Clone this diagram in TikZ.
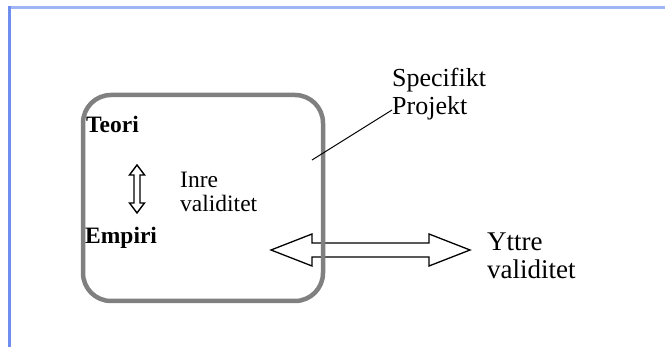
\documentclass[tikz,border=0pt]{standalone}
\usepackage{fontspec}
\setmainfont{Liberation Serif}
\definecolor{frametop}{RGB}{158,182,245}
\definecolor{frameleft}{RGB}{112,142,238}
\definecolor{boxgray}{RGB}{128,128,128}
\tikzset{
  lbl/.style={anchor=base west, inner sep=0pt},
  blockarrow/.style={draw=black, line width=1.3pt, fill=white, line join=miter},
}
\begin{document}
\begin{tikzpicture}[x=1pt,y=-1pt]
\useasboundingbox (0,0) rectangle (665,347);
\fill[white] (0,0) rectangle (665,347);
% frame
\draw[frametop, line width=3pt] (8,8) -- (665,8);
\draw[frameleft, line width=3pt] (9.5,6.5) -- (9.5,347);
% horizontal double arrow (below box line)
\draw[blockarrow] (271,250) -- (312,234) -- (312,243) -- (429,243) -- (429,234) -- (470,250)
  -- (429,266) -- (429,257) -- (312,257) -- (312,266) -- cycle;
% rounded box
\draw[boxgray, line width=4.5pt, rounded corners=28pt] (83,95) rectangle (323,301);
% vertical double arrow
\draw[blockarrow, line width=1.4pt] (137,165) -- (144.5,175) -- (140,175) -- (140,203) -- (144.5,203) -- (137,213)
  -- (129.5,203) -- (134,203) -- (134,175) -- (129.5,175) -- cycle;
% texts
\node[lbl, font=\fontsize{23.5}{24}\selectfont\bfseries] (teori) at (86,133) {Teori};
\node[lbl, font=\fontsize{23.5}{24}\selectfont\bfseries] (empiri) at (85,244) {Empiri};
\node[lbl, font=\fontsize{23.5}{24}\selectfont] (inre) at (180,188) {\begin{tabular}[t]{@{}l@{}}Inre\\validitet\end{tabular}};
\node[lbl, font=\fontsize{26}{27.5}\selectfont] (spec) at (392,87) {\begin{tabular}[t]{@{}l@{}}Specifikt\\Projekt\end{tabular}};
\node[lbl, font=\fontsize{27}{28}\selectfont] (yttre) at (487,251) {\begin{tabular}[t]{@{}l@{}}Yttre\\validitet\end{tabular}};
% leader line
\coordinate (lead) at (312,160);
\draw[black, line width=1pt] (lead) -- (392,110);
\end{tikzpicture}
\end{document}
